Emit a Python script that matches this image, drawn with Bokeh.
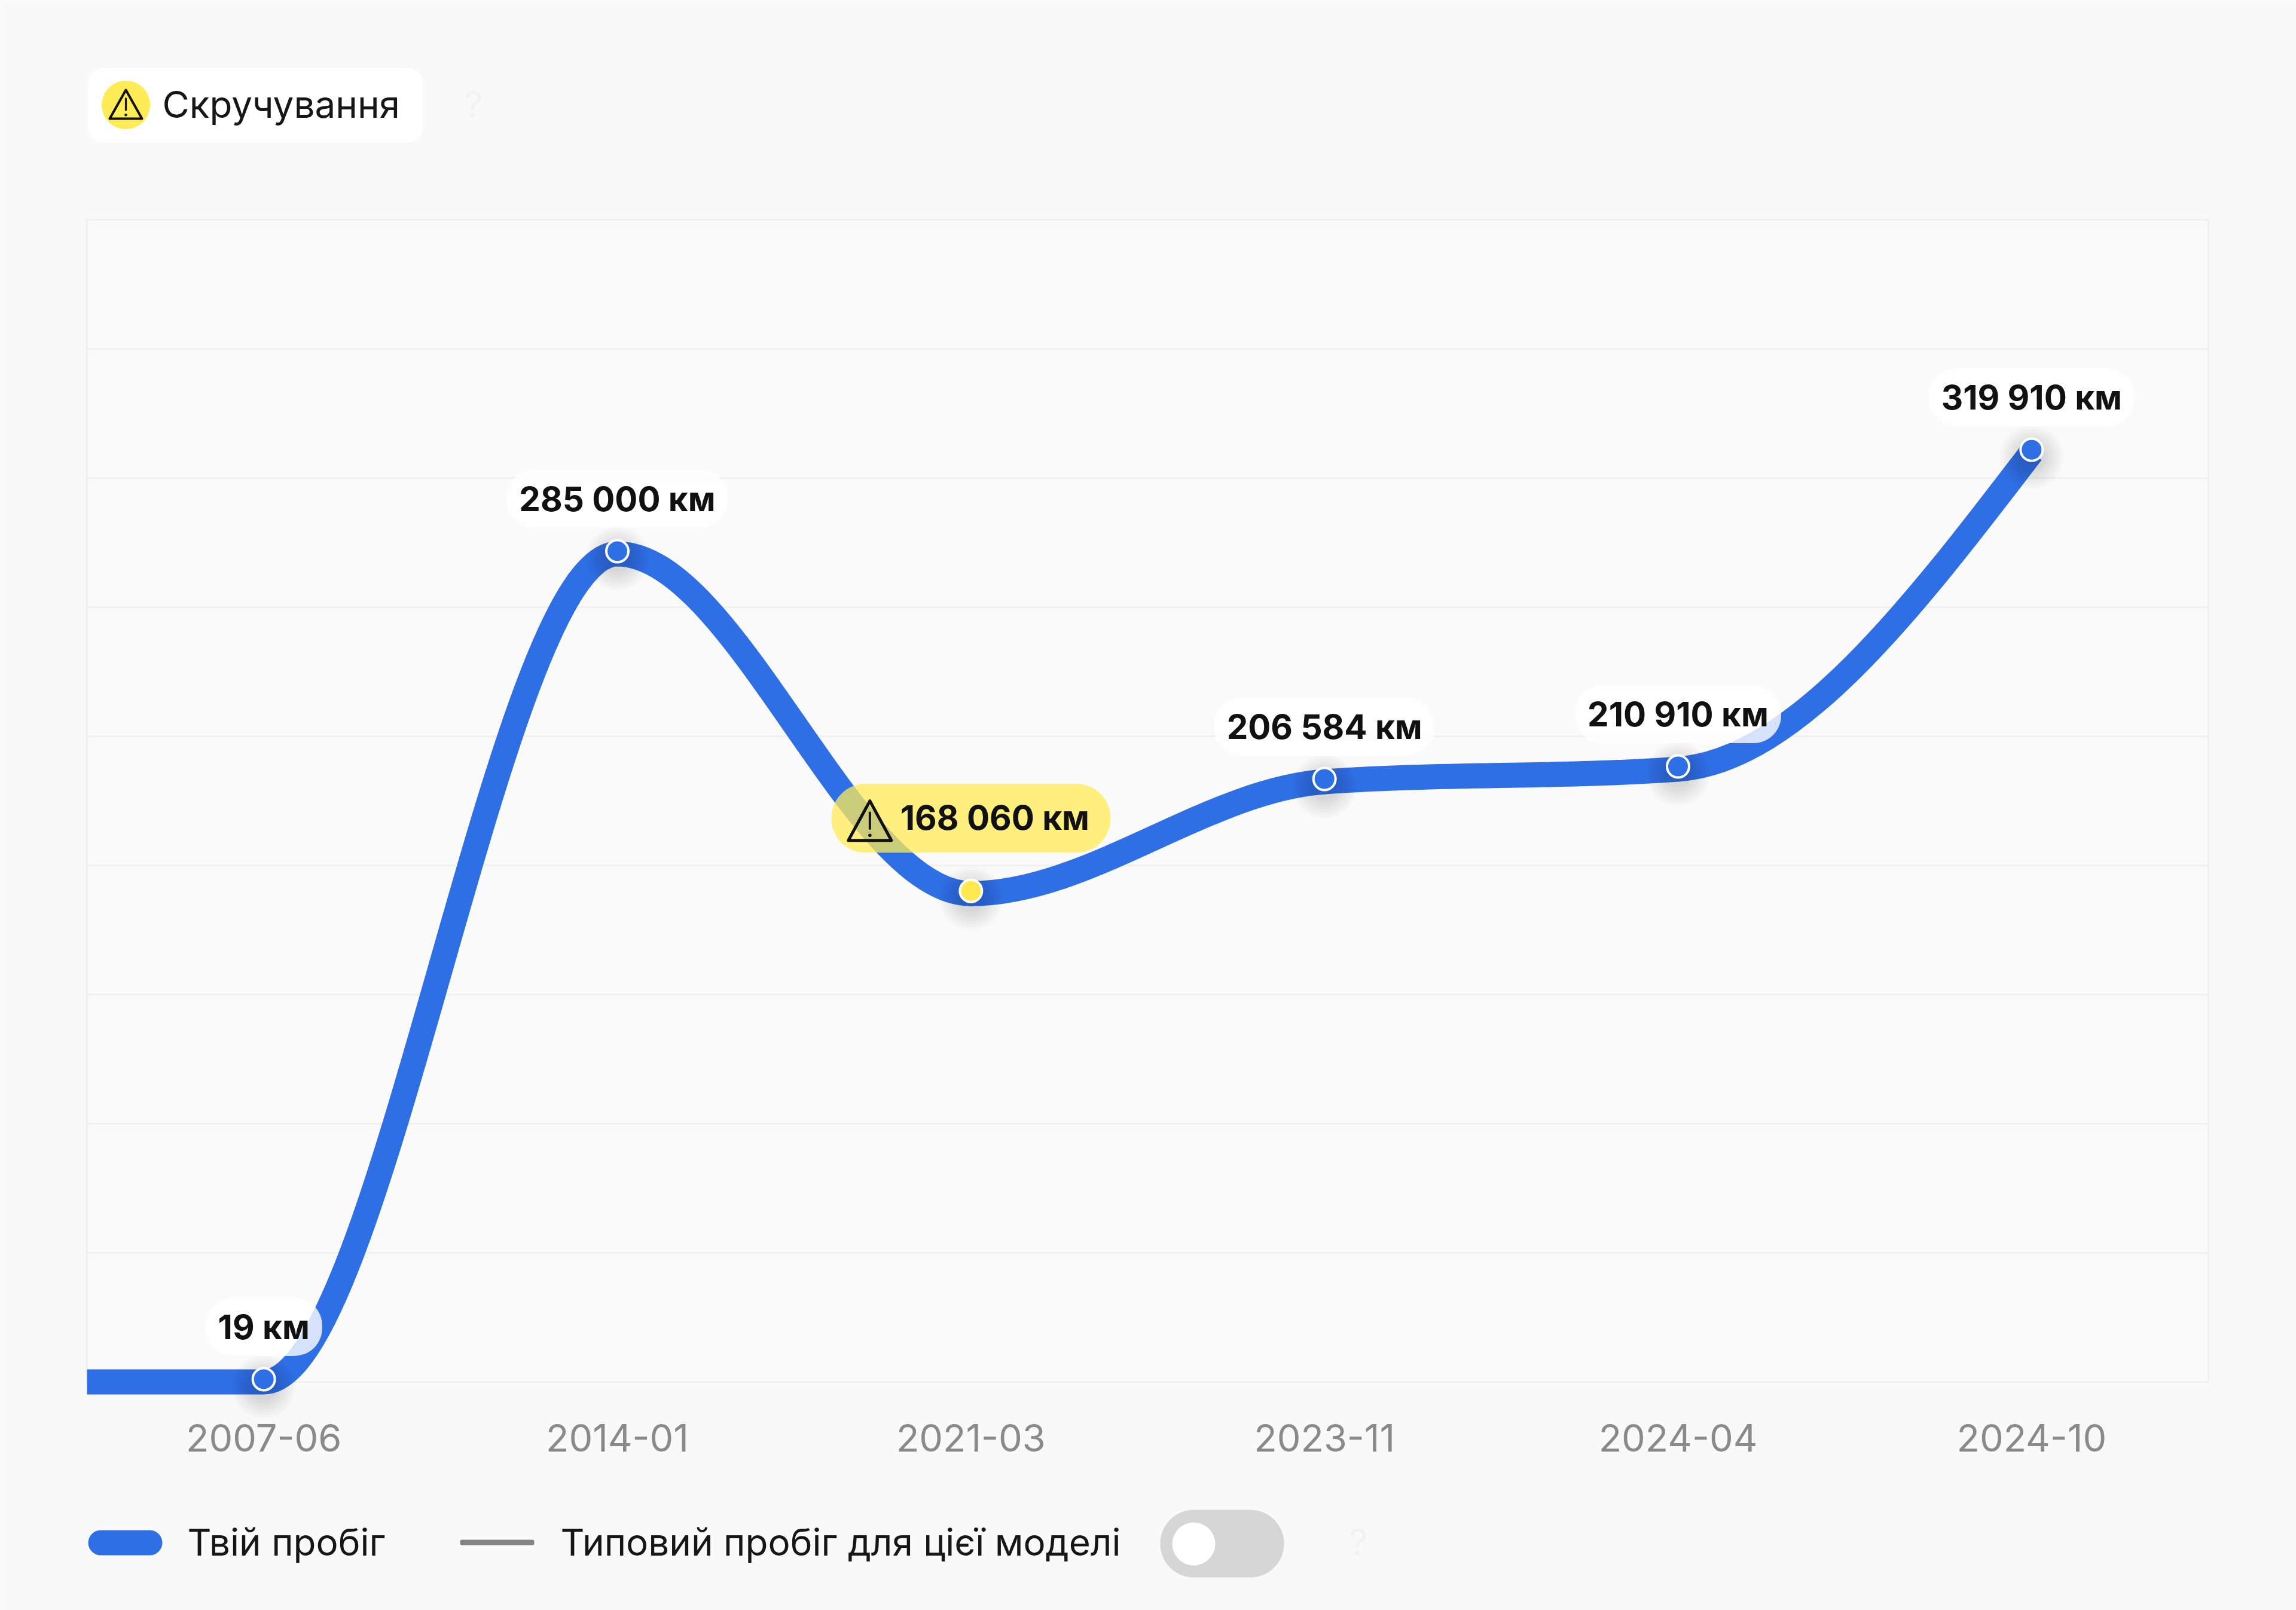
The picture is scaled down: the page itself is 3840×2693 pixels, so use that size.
from bokeh.core.properties import value
from bokeh.embed import file_html
from bokeh.models import ColumnDataSource, Range1d, FixedTicker
from bokeh.plotting import figure
from bokeh.resources import INLINE
from bokeh.transform import dodge

# ---------- data ----------
dates = ["2007-06", "2014-01", "2021-03", "2023-11", "2024-04", "2024-10"]
mileage = [19, 285000, 168060, 206584, 210910, 319910]
labels = ["19 км", "285 000 км", "168 060 км", "206 584 км", "210 910 км", "319 910 км"]
is_rollback = [False, False, True, False, False, False]
y_max = 400000
grid_steps = 9

header_text = "Скручування"
legend_own = "Твій пробіг"
legend_typical = "Типовий пробіг для цієї моделі"
help_mark = "?"

# ---------- style / layout (reference pixels) ----------
W, H = 3840, 2693
BG, PANEL, BLUE, YELLOW = "#F9F9F9", "#FAFAFA", "#2F6FE6", "#FFE94F"
GRID = "#F0F0F0"
FONT = value("Inter")
GX0, GX1, GY0, GY1 = 145, 3693, 367, 2311  # plot box
PX_X = (GX1 - GX0) / len(dates)
PX_Y = (GY1 - GY0) / y_max
x_lo, x_hi = -0.5, len(dates) - 0.5


def fx(px_):
    return x_lo + (px_ - GX0) / PX_X


def fy(py_):
    return (GY1 - py_) / PX_Y


p = figure(width=W, height=H, x_range=Range1d(fx(0), fx(W)), y_range=Range1d(fy(H), fy(0)),
           output_backend="svg", toolbar_location=None,
           y_axis_location=None,
           min_border_left=0, min_border_right=0, min_border_top=0, min_border_bottom=0,
           background_fill_color=BG, border_fill_color=BG)
p.outline_line_color = None
p.grid.visible = False


def pill(l, r, t, b, color, radius):
    p.quad(left=[fx(l)], right=[fx(r)], top=[fy(t)], bottom=[fy(b)],
           color=color, line_width=0, border_radius=radius)


def caption(x, y, s, color="#161616", align="left"):
    p.text([fx(x)], [fy(y)], text=[s], text_font=FONT, text_font_size="62px",
           text_color=color, text_align=align, text_baseline="middle")


def warn_icon(cx, cy, w, h, lw, color="#111111"):
    """Warning triangle centred on pixel (cx, cy)."""
    p.patch([fx(cx - w / 2), fx(cx), fx(cx + w / 2)],
            [fy(cy + h / 2), fy(cy - h / 2), fy(cy + h / 2)],
            fill_alpha=0, line_color=color, line_width=lw, line_join="round")
    p.segment([fx(cx)], [fy(cy - 0.2 * h)], [fx(cx)], [fy(cy + 0.2 * h)],
              line_color=color, line_width=lw * 0.8, line_cap="round")
    p.scatter([fx(cx)], [fy(cy + 0.37 * h)], size=lw * 1.1, color=color, line_width=0)


# ---------- header ----------
pill(147, 707, 113, 238, "white", 26)
p.scatter([fx(210)], [fy(175)], size=81, color="#FFEB55", line_width=0)
warn_icon(210, 174, 54, 48, 4)
caption(271, 174, header_text)
caption(791, 174, help_mark, color="#F2F2F2", align="center")

# ---------- main chart ----------
xs = list(range(len(dates)))

# panel, grid and box
p.quad(left=[x_lo], right=[x_hi], top=[y_max], bottom=[0], color=PANEL, line_width=0)
grid_levels = [y_max * i / grid_steps for i in range(grid_steps + 1)]
p.segment([x_lo] * len(grid_levels), grid_levels, [x_hi] * len(grid_levels), grid_levels,
          line_color=GRID, line_width=3)
p.segment([x_lo, x_hi], [0, 0], [x_lo, x_hi], [y_max, y_max], line_color=GRID, line_width=3)

ax = p.xaxis[0]
ax.fixed_location = 0
ax.ticker = FixedTicker(ticks=xs)
ax.major_label_overrides = {i: d for i, d in enumerate(dates)}
ax.axis_line_color = None
ax.major_tick_line_color = None
ax.minor_tick_line_color = None
ax.major_label_text_font = "Inter"
ax.major_label_text_font_size = "63px"
ax.major_label_text_color = "#8A8A8A"
ax.major_label_standoff = 64

# mileage line: monotone cubic through the points, starting flat from the left edge
px = [x_lo] + xs
py = [mileage[0]] + mileage
seg = [(py[i + 1] - py[i]) / (px[i + 1] - px[i]) for i in range(len(px) - 1)]


def sign(v):
    return (v > 0) - (v < 0)


tang = [0.0] * len(px)
for i in range(1, len(px) - 1):
    h0, h1 = px[i] - px[i - 1], px[i + 1] - px[i]
    p_ = (seg[i - 1] * h1 + seg[i] * h0) / (h0 + h1)
    tang[i] = (sign(seg[i - 1]) + sign(seg[i])) * min(abs(seg[i - 1]), abs(seg[i]), 0.5 * abs(p_))
tang[0] = seg[0]
tang[-1] = (3 * seg[-1] - tang[-2]) / 2

LINE_W = 42
bez = []
for i in range(len(px) - 1):
    d = (px[i + 1] - px[i]) / 3
    bez.append(dict(x0=px[i], y0=py[i], x1=px[i + 1], y1=py[i + 1],
                    cx0=px[i] + d, cy0=py[i] + tang[i] * d,
                    cx1=px[i + 1] - d, cy1=py[i + 1] - tang[i + 1] * d))
p.segment([px[0]], [py[0]], [px[1]], [py[1]], line_color=BLUE, line_width=LINE_W, line_cap="butt")
for j, b in enumerate(bez[1:]):
    cap = "butt" if j == len(bez) - 2 else "round"
    p.bezier(x0=[b["x0"]], y0=[b["y0"]], x1=[b["x1"]], y1=[b["y1"]],
             cx0=[b["cx0"]], cy0=[b["cy0"]], cx1=[b["cx1"]], cy1=[b["cy1"]],
             line_color=BLUE, line_width=LINE_W, line_cap=cap)

# points
src = ColumnDataSource(dict(x=xs, y=mileage, label=labels))
normal = [i for i, w in enumerate(is_rollback) if not w]
warned = [i for i, w in enumerate(is_rollback) if w]
src_n = ColumnDataSource(dict(x=[xs[i] for i in normal], y=[mileage[i] for i in normal],
                              label=[labels[i] for i in normal]))
src_w = ColumnDataSource(dict(x=[xs[i] for i in warned], y=[mileage[i] for i in warned],
                              label=[labels[i] for i in warned]))

SHADOW_DY = -8 / PX_Y
for size in (106, 96, 86, 76, 66, 56, 46):
    p.scatter("x", dodge("y", SHADOW_DY, range=p.y_range), size=size, source=src,
              color="#000000", alpha=0.02, line_width=0)

POINT_DY = 4.5 / PX_Y
p.scatter("x", dodge("y", POINT_DY, range=p.y_range), size=37, source=src_n, fill_color=BLUE,
          line_color="white", line_width=4)
p.scatter("x", dodge("y", POINT_DY, range=p.y_range), size=37, source=src_w, fill_color=YELLOW,
          line_color="white", line_width=4)

# value labels
p.text("x", "y", text="label", source=src_n, text_font=FONT, text_font_style="bold",
       text_font_size="56.5px", text_color="#111111", text_align="center", text_baseline="middle",
       y_offset=-92, background_fill_color="white", background_fill_alpha=0.8,
       padding=(21, 21, 14, 14), border_radius=46)
p.text("x", "y", text="label", source=src_w, text_font=FONT, text_font_style="bold",
       text_font_size="56.5px", text_color="#111111", text_align="center", text_baseline="middle",
       y_offset=-126, background_fill_color="#FFEB55", background_fill_alpha=0.75,
       padding=(115, 35, 22, 24), border_radius=56)
for i in warned:
    warn_icon(GX0 + (xs[i] + 0.5) * PX_X - 169, GY1 - mileage[i] * PX_Y - 122, 72, 66, 5)

# ---------- legend ----------
pill(147, 271, 2559, 2601, BLUE, 21)
caption(313, 2579, legend_own)
pill(769, 893, 2575, 2584, "#858585", 3)
caption(937, 2579, legend_typical)
pill(1940, 2147, 2525, 2638, "#D6D6D6", 56)
p.scatter([fx(1996)], [fy(2582)], size=72, color="white", line_width=0)
caption(2271, 2579, help_mark, color="#F2F2F2", align="center")

open("out.html", "w").write(file_html(p, INLINE))
